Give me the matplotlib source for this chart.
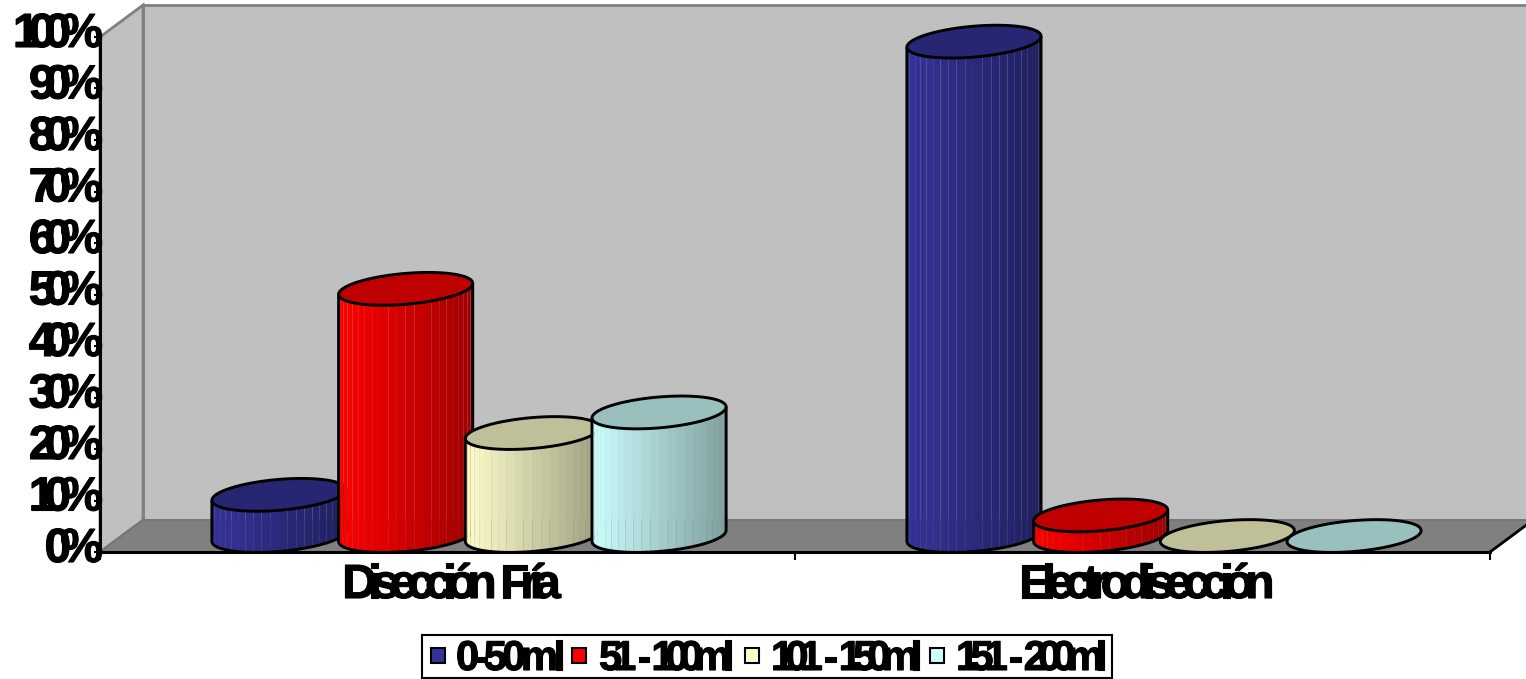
from matplotlib.patches import Polygon, Rectangle
from matplotlib.patheffects import withStroke
from matplotlib.text import Text
from matplotlib.transforms import Bbox, IdentityTransform, offset_copy
import matplotlib
matplotlib.use('Agg')
import matplotlib.pyplot as plt
import numpy as np

categories = ['Disección Fría', 'Electrodisección']
series_labels = ['0-50ml', '51 - 100ml', '101 - 150ml', '151 - 200ml']
series_colors = ['#333399', '#FF0000', '#FFFFCC', '#CCFFFF']
values_0_50 = [8, 96]
values_51_100 = [48, 4]
values_101_150 = [20, 0]
values_151_200 = [24, 0]
y_ticks = [0, 10, 20, 30, 40, 50, 60, 70, 80, 90, 100]

W, H = 1526, 679
DEPTH_X = 0.0619
DEPTH_Y = 6.2
BAR_STEP = 0.1823
BAR_WIDTH = 0.193
CAP_SHEAR = 1.07
CAP_HALF = 3.0
STRIPS = 24
EDGE = 2.1


class TightText(Text):
    # Text with negative letter spacing, matplotlib has no option for it
    def __init__(self, x, y, text, tracking=0.0, word_gap=0.0, **kwargs):
        super().__init__(x, y, text, **kwargs)
        self.tracking = tracking
        self.word_gap = word_gap

    def layout_chars(self, renderer):
        prop = self.get_fontproperties()
        chars = self.get_text()

        def width(s):
            return renderer.get_text_width_height_descent(s, prop, False)[0]

        offsets = [width(chars[:i + 1]) - width(chars[i]) + i * self.tracking
                   + chars[:i].count(' ') * self.word_gap for i in range(len(chars))]
        total = offsets[-1] + width(chars[-1])
        x, y = self.get_transform().transform(self.get_unitless_position())
        if self.get_horizontalalignment() == 'center':
            x -= total / 2
        elif self.get_horizontalalignment() == 'right':
            x -= total
        return x, y, offsets, total

    def get_window_extent(self, renderer=None, dpi=None):
        renderer = renderer or self.get_figure().canvas.get_renderer()
        x, y, offsets, total = self.layout_chars(renderer)
        _, h, d = renderer.get_text_width_height_descent(self.get_text(), self.get_fontproperties(), False)
        return Bbox.from_bounds(x, y - d, total, h)

    def draw(self, renderer):
        if not self.get_visible():
            return
        x, y, offsets, total = self.layout_chars(renderer)
        for ch, off in zip(self.get_text(), offsets):
            glyph = Text(x + off, y, ch, fontproperties=self.get_fontproperties(), color=self.get_color(),
                         ha='left', va='baseline', transform=IdentityTransform())
            glyph.set_path_effects(self.get_path_effects())
            glyph.set_figure(self.get_figure())
            glyph.draw(renderer)


def shade(color, factor):
    return tuple(c * factor for c in matplotlib.colors.to_rgb(color))


def draw_cylinder(ax, cx, value, color):
    half = BAR_WIDTH / 2
    base = DEPTH_Y / 2
    top = base + value

    # side of the cylinder, split in narrow strips going darker to the right
    if value > 0:
        angles = np.linspace(np.pi, 2 * np.pi, STRIPS + 1)
        xs = cx + half * np.cos(angles)
        ys = CAP_SHEAR * np.cos(angles) + CAP_HALF * np.sin(angles)
        for j in range(STRIPS):
            frac = (xs[j] + xs[j + 1] - 2 * (cx - half)) / (4 * half)
            pts = [(xs[j], base + ys[j]), (xs[j + 1], base + ys[j + 1]),
                   (xs[j + 1], top + ys[j + 1]), (xs[j], top + ys[j])]
            ax.add_patch(Polygon(pts, closed=True, facecolor=shade(color, 1 - 0.38 * frac), edgecolor='none',
                                 linewidth=0, zorder=3, clip_on=False))
        outline = [(xs[0], top + ys[0])] + [(a, base + b) for a, b in zip(xs, ys)] + [(xs[-1], top + ys[-1])]
        ax.add_patch(Polygon(outline, closed=False, fill=False, edgecolor='black', linewidth=EDGE, zorder=3,
                             clip_on=False))

    # top cap
    angles = np.linspace(0, 2 * np.pi, 90)
    cap = np.column_stack([cx + half * np.cos(angles), top + CAP_SHEAR * np.cos(angles) + CAP_HALF * np.sin(angles)])
    ax.add_patch(Polygon(cap, closed=True, facecolor=shade(color, 0.75), edgecolor='black', linewidth=EDGE, zorder=3,
                         clip_on=False))


fig = plt.figure(figsize=(W / 100, H / 100), dpi=100, facecolor='white')
ax = fig.add_axes([100 / W, 1 - 552 / H, 1390 / W, 515 / H])
ax.set_xlim(0, 2)
ax.set_ylim(0, 100)
ax.patch.set_visible(False)

font = matplotlib.font_manager.FontProperties(family='Liberation Sans', weight='bold', size=34.5)
legend_font = matplotlib.font_manager.FontProperties(family='Liberation Sans', weight='bold', size=30)
heavy = [withStroke(linewidth=0.8, foreground='black')]

# walls and floor of the 3d box
top_y = 100 + DEPTH_Y
ax.add_patch(Polygon([(DEPTH_X, DEPTH_Y), (2 + DEPTH_X, DEPTH_Y), (2 + DEPTH_X, top_y), (DEPTH_X, top_y)],
                     facecolor='#C0C0C0', edgecolor='#808080', linewidth=2, clip_on=False, zorder=1))
ax.add_patch(Polygon([(0, 0), (DEPTH_X, DEPTH_Y), (DEPTH_X, top_y), (0, 100)],
                     facecolor='#C0C0C0', edgecolor='#808080', linewidth=2, clip_on=False, zorder=1))
ax.add_patch(Polygon([(0, 0), (2, 0), (2 + DEPTH_X, DEPTH_Y), (DEPTH_X, DEPTH_Y)],
                     facecolor='#808080', edgecolor='#777777', linewidth=1.5, clip_on=False, zorder=1))
ax.plot([2, 2 + DEPTH_X], [0, DEPTH_Y], color='black', linewidth=2, clip_on=False, zorder=2)

all_values = [values_0_50, values_51_100, values_101_150, values_151_200]
for cat in range(len(categories)):
    for i, vals in enumerate(all_values):
        cx = cat + 0.5 + (i - 1.5) * BAR_STEP + DEPTH_X / 2
        draw_cylinder(ax, cx, vals[cat], series_colors[i])

for side in ['top', 'right']:
    ax.spines[side].set_visible(False)
for side in ['left', 'bottom']:
    ax.spines[side].set_linewidth(2.2)
    ax.spines[side].set_zorder(4)

ax.set_xticks([0, 1, 2])
ax.set_yticks(y_ticks)
ax.tick_params(axis='x', length=6, width=1.5, labelbottom=False)
ax.tick_params(axis='y', length=4, width=1.5, labelleft=False)

y_trans = offset_copy(ax.transData, fig=fig, x=3, y=-10, units='dots')
for tick in y_ticks:
    ax.add_artist(TightText(0, tick, f'{tick}%', tracking=-10.8, fontproperties=font, color='black', ha='right',
                            va='baseline', transform=y_trans, clip_on=False, path_effects=heavy))

x_trans = offset_copy(ax.transData, fig=fig, x=4, y=-46, units='dots')
for pos, (name, track) in enumerate(zip(categories, [-9.0, -8.5])):
    ax.add_artist(TightText(pos + 0.5, 0, name, tracking=track, word_gap=8, fontproperties=font, color='black',
                            ha='center', va='baseline', transform=x_trans, clip_on=False, path_effects=heavy))

# legend box, laid out by hand because of the tight lettering
leg = fig.add_axes([422 / W, 1 - 678 / H, 690 / W, 43 / H])
leg.set_xlim(0, 690)
leg.set_ylim(0, 43)
leg.set_xticks([])
leg.set_yticks([])
for spine in leg.spines.values():
    spine.set_linewidth(1.5)
swatch_x = [9, 150, 323, 508]
text_x = [34, 177, 349, 534]
legend_tracking = [-4.6, -9, -8.8, -8.8]
for label, color, sx, tx, track in zip(series_labels, series_colors, swatch_x, text_x, legend_tracking):
    leg.add_patch(Rectangle((sx, 15), 14, 15, facecolor=color, edgecolor='black', linewidth=1.5))
    leg.add_artist(TightText(tx, 8, label, tracking=track, word_gap=7, fontproperties=legend_font, color='black',
                             ha='left', va='baseline', transform=leg.transData, path_effects=heavy))

fig.savefig('out.png', dpi=100)
